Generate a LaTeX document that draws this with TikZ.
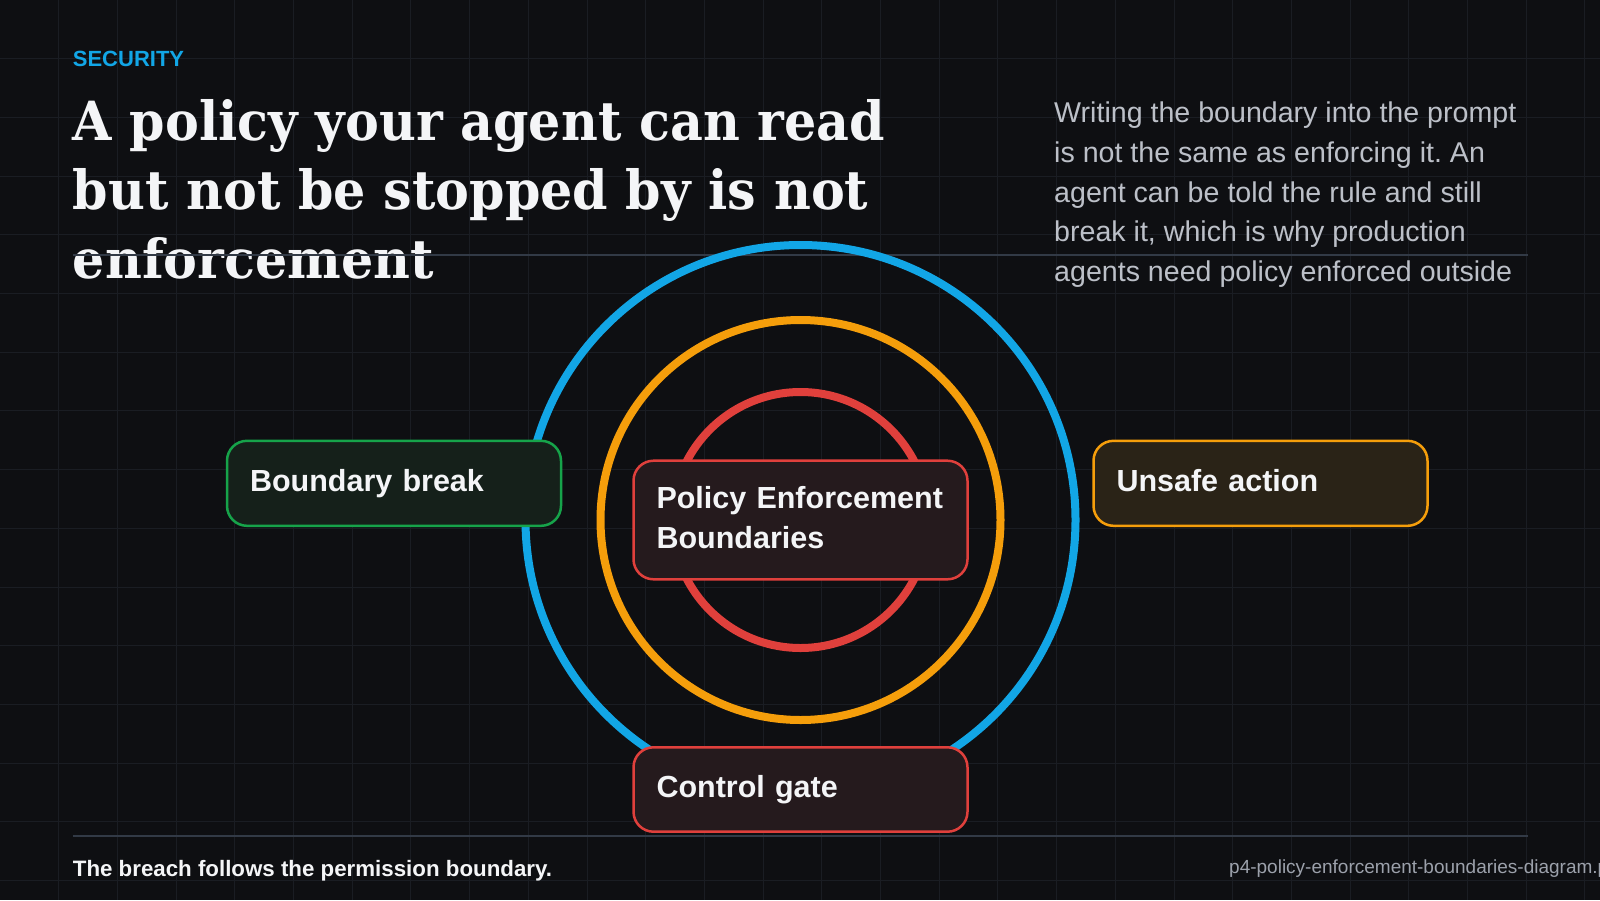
\documentclass[tikz,border=0pt]{standalone}
\usepackage{fontspec}
\setmainfont{Liberation Sans}
\newfontfamily\headfont[FakeStretch=0.94]{DejaVu Serif}
\usetikzlibrary{positioning}
\frenchspacing
\definecolor{bg}{HTML}{0E0F12}
\definecolor{gridc}{HTML}{1A1D23}
\definecolor{rulec}{HTML}{323A46}
\definecolor{sky}{HTML}{12A6E6}
\definecolor{amber}{HTML}{F59E0B}
\definecolor{crim}{HTML}{E0403C}
\definecolor{leaf}{HTML}{16A34A}
\definecolor{ink}{HTML}{F4F5F7}
\definecolor{muted}{HTML}{BCC0C8}
\definecolor{faint}{HTML}{9CA1AB}
\definecolor{leaffill}{HTML}{15201A}
\definecolor{crimfill}{HTML}{251A1D}
\definecolor{amberfill}{HTML}{2A2317}
\tikzset{
  card/.style={draw=#1, line width=2.5pt, rounded corners=20pt, minimum width=334pt, minimum height=85pt,
    text width=288pt, inner xsep=23pt, align=left, text=ink, font=\fontsize{30.5}{40}\selectfont\bfseries},
  ring/.style={draw=#1, line width=8pt, circle, inner sep=0pt},
  divider/.style={draw=rulec, line width=2pt},
  gridline/.style={draw=gridc, line width=1pt},
  txt/.style={anchor=base west, inner sep=0pt, align=left},
}

\begin{document}
\begin{tikzpicture}[x=1pt, y=-1pt]
  \fill[bg] (0,0) rectangle (1600,900);
  \useasboundingbox (0,0) rectangle (1600,900);
  \clip (0,0) rectangle (1600,900);
  % background grid
  \foreach \i in {1,...,27} \draw[gridline] (\i*58.7,0) -- (\i*58.7,900);
  \foreach \j in {1,...,15} \draw[gridline] (0,\j*58.7) -- (1600,\j*58.7);

  % heading (multi-line nodes sit on their last baseline)
  \node[txt, text=sky, font=\bfseries\fontsize{22}{26}\selectfont] (kicker) at (72.7,66.7) {SECURITY};
  \node[txt, text=ink, font=\headfont\bfseries\fontsize{54}{69}\selectfont] (title) at (72.7,278)
    {A policy your agent can read\\but not be stopped by is not\\enforcement};
  \node[txt, text=muted, font=\fontsize{28.6}{39.75}\selectfont] (lede) at (1054,281.7)
    {Writing the boundary into the prompt\\is not the same as enforcing it. An\\agent can be told the rule and still\\break it, which is why production\\agents need policy enforced outside};
  \coordinate (ruleL) at (72.7,254.5);
  \coordinate (ruleR) at (1528,254.5);
  \draw[divider] (ruleL) -- (ruleR);

  % rings
  \coordinate (hub) at (800.5,520);
  \node[ring=sky, minimum size=550pt] (outer) at (hub) {};
  \node[ring=amber, minimum size=400pt] (middle) at (hub) {};
  \node[ring=crim, minimum size=256pt] (inner) at (hub) {};

  % cards
  \node[card=crim, fill=crimfill, minimum height=118.6pt] (core) at (hub) {\strut\mbox{Policy Enforcement}\\Boundaries\strut};
  \node[card=leaf, fill=leaffill] (breakc) at (394,483.3) {Boundary break\strut};
  \node[card=amber, fill=amberfill] (unsafe) at (1260.5,483.3) {Unsafe action\strut};
  \node[card=crim, fill=crimfill, minimum height=84.4pt] (gate) at (800.5,789.5) {Control gate\strut};

  % footer
  \coordinate (footL) at (72.7,836);
  \coordinate (footR) at (1528,836);
  \draw[divider] (footL) -- (footR);
  \node[txt, text=ink, font=\bfseries\fontsize{22.3}{26}\selectfont] (foot) at (72.7,876.7)
    {The breach follows the permission boundary.};
  \node[txt, text=faint, font=\fontsize{19}{23}\selectfont] (fname) at (1229,873.3)
    {p4-policy-enforcement-boundaries-diagram.png};
\end{tikzpicture}
\end{document}
